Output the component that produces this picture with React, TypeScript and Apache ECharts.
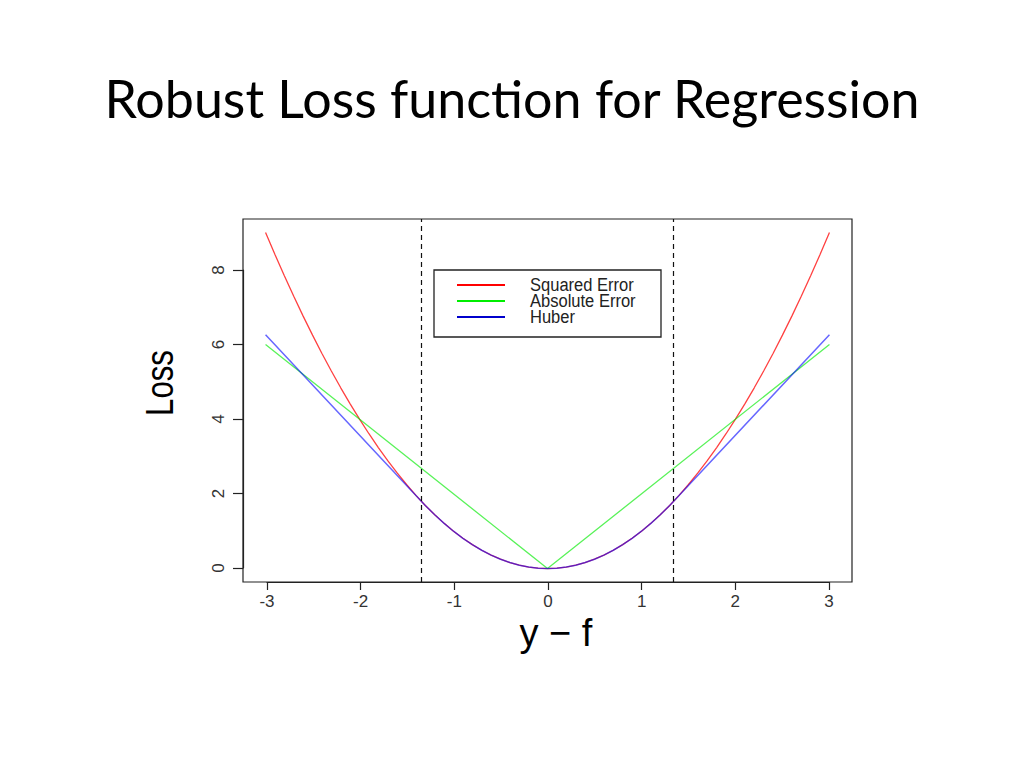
import React, { useEffect, useRef } from "react";
import * as echarts from "echarts";

// ---- Data ----
const xTicks = [-3, -2, -1, 0, 1, 2, 3];
const yTicks = [0, 2, 4, 6, 8];

const sqX = [
  -3.0, -2.9, -2.8, -2.7, -2.6, -2.5, -2.4, -2.3, -2.2, -2.1, -2.0, -1.9, -1.8, -1.7, -1.6,
  -1.5, -1.4, -1.3, -1.2, -1.1, -1.0, -0.9, -0.8, -0.7, -0.6, -0.5, -0.4, -0.3, -0.2, -0.1,
  0.0, 0.1, 0.2, 0.3, 0.4, 0.5, 0.6, 0.7, 0.8, 0.9, 1.0, 1.1, 1.2, 1.3, 1.4, 1.5, 1.6, 1.7,
  1.8, 1.9, 2.0, 2.1, 2.2, 2.3, 2.4, 2.5, 2.6, 2.7, 2.8, 2.9, 3.0,
];
const sqY = [
  9.0, 8.41, 7.84, 7.29, 6.76, 6.25, 5.76, 5.29, 4.84, 4.41, 4.0, 3.61, 3.24, 2.89, 2.56,
  2.25, 1.96, 1.69, 1.44, 1.21, 1.0, 0.81, 0.64, 0.49, 0.36, 0.25, 0.16, 0.09, 0.04, 0.01,
  0.0, 0.01, 0.04, 0.09, 0.16, 0.25, 0.36, 0.49, 0.64, 0.81, 1.0, 1.21, 1.44, 1.69, 1.96,
  2.25, 2.56, 2.89, 3.24, 3.61, 4.0, 4.41, 4.84, 5.29, 5.76, 6.25, 6.76, 7.29, 7.84, 8.41, 9.0,
];

const absX = [-3.0, 0.0, 3.0];
const absY = [6.0, 0.0, 6.0];

const huberX = [
  -3.0, -1.345, -1.3, -1.2, -1.1, -1.0, -0.9, -0.8, -0.7, -0.6, -0.5, -0.4, -0.3, -0.2, -0.1,
  0.0, 0.1, 0.2, 0.3, 0.4, 0.5, 0.6, 0.7, 0.8, 0.9, 1.0, 1.1, 1.2, 1.3, 1.345, 3.0,
];
const huberY = [
  6.26, 1.81, 1.69, 1.44, 1.21, 1.0, 0.81, 0.64, 0.49, 0.36, 0.25, 0.16, 0.09, 0.04, 0.01,
  0.0, 0.01, 0.04, 0.09, 0.16, 0.25, 0.36, 0.49, 0.64, 0.81, 1.0, 1.21, 1.44, 1.69, 1.81, 6.26,
];

const cutoffs = [-1.345, 1.345];

const seriesNames = ["Squared Error", "Absolute Error", "Huber"];
const legendColors = ["#ff0000", "#00ee00", "#0000cc"];

const zip = (xs: number[], ys: number[]) => xs.map((x, i) => [x, ys[i]]);

export default function App() {
  const ref = useRef<HTMLDivElement>(null);
  useEffect(() => {
    if (!ref.current) return;
    const chart = echarts.init(ref.current, undefined, { renderer: "svg" });
    const labelFont = "'Liberation Sans Narrow', 'Liberation Sans', Arial, sans-serif";
    const option: any = {
      animation: false,
      backgroundColor: "#ffffff",
      grid: [
        { left: 243, top: 219, width: 609, height: 363, show: true, borderColor: "#222", borderWidth: 1.2, backgroundColor: "transparent" },
        { left: 267, top: 270, width: 562, height: 298, show: false },
      ],
      xAxis: [
        { type: "value", gridIndex: 0, min: -3.24, max: 3.24, show: false },
        {
          type: "value",
          gridIndex: 1,
          min: xTicks[0],
          max: xTicks[xTicks.length - 1],
          interval: 1,
          position: "bottom",
          offset: 14,
          axisLine: { show: true, onZero: false, lineStyle: { color: "#222", width: 1.2 } },
          axisTick: { show: true, length: 8, lineStyle: { color: "#222", width: 1.2 } },
          axisLabel: { margin: 11, fontSize: 17, color: "#333", fontFamily: labelFont },
          splitLine: { show: false },
        },
      ],
      yAxis: [
        { type: "value", gridIndex: 0, min: -0.36, max: 9.36, show: false },
        {
          type: "value",
          gridIndex: 1,
          min: yTicks[0],
          max: yTicks[yTicks.length - 1],
          interval: 2,
          position: "left",
          offset: 24,
          axisLine: { show: true, onZero: false, lineStyle: { color: "#222", width: 1.2 } },
          axisTick: { show: true, length: 10, lineStyle: { color: "#222", width: 1.2 } },
          axisLabel: { margin: 16, fontSize: 17, rotate: 90, color: "#333", fontFamily: labelFont },
          splitLine: { show: false },
        },
      ],
      series: [
        {
          name: seriesNames[0],
          type: "line",
          xAxisIndex: 0,
          yAxisIndex: 0,
          data: zip(sqX, sqY),
          showSymbol: false,
          smooth: false,
          lineStyle: { color: "rgba(255,0,0,0.75)", width: 1.3 },
          markLine: {
            silent: true,
            symbol: "none",
            label: { show: false },
            lineStyle: { color: "#111", type: [5, 4], width: 1.2 },
            data: cutoffs.map((c) => ({ xAxis: c })),
          },
        },
        {
          name: seriesNames[1],
          type: "line",
          xAxisIndex: 0,
          yAxisIndex: 0,
          data: zip(absX, absY),
          showSymbol: false,
          lineStyle: { color: "rgba(0,235,0,0.65)", width: 1.3 },
        },
        {
          name: seriesNames[2],
          type: "line",
          xAxisIndex: 0,
          yAxisIndex: 0,
          data: zip(huberX, huberY),
          showSymbol: false,
          lineStyle: { color: "rgba(0,0,255,0.6)", width: 1.5 },
        },
      ],
      graphic: [
        {
          type: "text",
          x: 512,
          y: 98,
          style: {
            text: "Robust Loss function for Regression",
            fontFamily: "Lato, 'Open Sans', sans-serif",
            fontSize: 52,
            fill: "#000",
            textAlign: "center",
            textVerticalAlign: "middle",
          },
        },
        {
          type: "text",
          x: 160,
          y: 383,
          rotation: Math.PI / 2,
          scaleX: 0.82,
          style: {
            text: "Loss",
            fontFamily: "'Liberation Sans', Arial, sans-serif",
            fontSize: 38,
            fill: "#000",
            textAlign: "center",
            textVerticalAlign: "middle",
          },
        },
        {
          type: "text",
          x: 556,
          y: 633,
          style: {
            text: "y − f",
            fontFamily: "'Liberation Sans', Arial, sans-serif",
            fontSize: 38,
            fill: "#000",
            textAlign: "center",
            textVerticalAlign: "middle",
          },
        },
        {
          type: "rect",
          shape: { x: 434, y: 270, width: 227, height: 67 },
          style: { fill: "#fff", stroke: "#222", lineWidth: 1.3 },
          z: 10,
        },
        ...seriesNames.flatMap((name, i) => [
          {
            type: "line",
            shape: { x1: 457, y1: 285 + i * 16, x2: 505, y2: 285 + i * 16 },
            style: { stroke: legendColors[i], lineWidth: 2 },
            z: 11,
          },
          {
            type: "text",
            x: 530,
            y: 285 + i * 16,
            scaleX: 0.87,
            z: 11,
            style: {
              text: name,
              fontFamily: "'Liberation Sans', Arial, sans-serif",
              fontSize: 19,
              fill: "#222",
              textAlign: "left",
              textVerticalAlign: "middle",
            },
          },
        ]),
      ],
    };
    chart.setOption(option);
    return () => chart.dispose();
  }, []);
  return (
    <div
      ref={ref}
      style={{ position: "absolute", left: 0, top: 0, width: 1024, height: 768, background: "#fff" }}
    />
  );
}
